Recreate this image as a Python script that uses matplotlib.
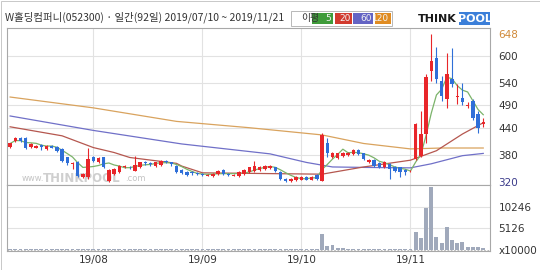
import numpy as np
import pandas as pd
import matplotlib
matplotlib.use("Agg")
import matplotlib.pyplot as plt
from matplotlib.patches import Rectangle

plt.rcParams['font.family'] = ['Noto Sans CJK KR', 'DejaVu Sans']

# 일봉 데이터 (2019/07/10 ~ 2019/11/21, 92일)
opens = [398, 411, 417, 417, 398, 396, 401, 393, 399, 397, 393, 374, 360, 365, 330, 330,
         374, 364, 374, 322, 338, 341, 352, 354, 345, 352, 363, 361, 356, 358, 366, 363,
         355, 347, 342, 341, 340, 337, 334, 333, 338, 346, 338, 334, 333, 338, 341, 344,
         346, 349, 350, 352, 341, 327, 322, 323, 325, 331, 325, 335, 322, 407, 374, 373,
         378, 379, 382, 390, 383, 363, 369, 361, 352, 360, 353, 352, 346, 343, 371, 378,
         426, 566, 595, 544, 504, 548, 508, 506, 488, 500, 471, 448]
highs = [407, 420, 419, 419, 405, 402, 404, 402, 401, 399, 395, 376, 363, 367, 340, 396,
         377, 375, 376, 349, 351, 358, 357, 356, 377, 365, 366, 363, 365, 368, 369, 365,
         357, 349, 344, 343, 342, 339, 338, 340, 346, 348, 340, 338, 343, 348, 354, 366,
         355, 357, 357, 354, 343, 329, 328, 333, 333, 333, 333, 337, 429, 418, 387, 385,
         387, 386, 392, 392, 385, 371, 371, 363, 367, 362, 355, 354, 348, 347, 450, 477,
         559, 648, 618, 555, 606, 617, 536, 540, 498, 503, 478, 461]
lows = [396, 409, 409, 393, 396, 394, 391, 391, 394, 387, 365, 357, 349, 331, 328, 327,
        364, 362, 350, 320, 336, 339, 350, 349, 343, 350, 358, 356, 354, 356, 361, 356,
        339, 337, 334, 335, 335, 332, 332, 331, 336, 336, 333, 332, 331, 336, 339, 342,
        344, 347, 348, 341, 325, 320, 320, 321, 323, 323, 323, 325, 321, 374, 372, 371,
        376, 377, 380, 379, 369, 361, 353, 350, 350, 327, 342, 331, 335, 341, 369, 376,
        407, 544, 540, 500, 484, 531, 492, 490, 483, 458, 429, 441]
closes = [405, 418, 411, 395, 403, 400, 398, 400, 396, 389, 367, 361, 362, 333, 337, 371,
          367, 373, 352, 346, 349, 355, 355, 352, 358, 363, 361, 359, 363, 366, 363, 359,
          341, 340, 336, 339, 337, 335, 336, 338, 344, 338, 335, 336, 341, 346, 352, 355,
          353, 355, 355, 343, 327, 321, 326, 331, 331, 325, 331, 327, 424, 385, 385, 383,
          385, 384, 390, 381, 371, 369, 355, 352, 365, 349, 344, 341, 341, 345, 448, 426,
          553, 588, 548, 511, 559, 537, 511, 498, 491, 462, 440, 453]
volumes = [90, 70, 80, 100, 70, 60, 80, 70, 60, 80, 110, 100, 90, 130, 100, 160,
           90, 70, 100, 120, 80, 80, 70, 60, 90, 80, 70, 60, 70, 70, 60, 70,
           80, 70, 60, 60, 60, 60, 60, 60, 70, 60, 60, 60, 60, 70, 80, 100,
           80, 70, 70, 70, 100, 110, 100, 80, 80, 70, 70, 80, 3700, 870, 1200, 300,
           250, 150, 120, 100, 110, 90, 100, 90, 80, 120, 100, 110, 90, 80, 4260, 2800,
           9920, 15150, 3050, 1600, 5470, 2400, 1600, 1930, 630, 600, 500, 300]

# 이동평균선 (화면에서 읽은 값)
ma20_idx = [0, 10, 16, 20, 23, 32, 33, 37, 52, 60, 68, 77, 82, 87, 91]
ma20_val = [442, 422, 396, 385, 374, 361, 355, 340, 338, 337, 353, 368, 389, 426, 451]
ma60_idx = [0, 16, 33, 50, 57, 62, 68, 77, 81, 87, 91]
ma60_val = [466, 434, 404, 382, 363, 353, 352, 351, 360, 378, 383]
ma120_idx = [0, 16, 32, 46, 60, 68, 77, 83, 91]
ma120_val = [508, 484, 454, 440, 424, 405, 393, 395, 395]

month_idx = [16, 37, 56, 77]
month_labels = ['19/08', '19/09', '19/10', '19/11']
price_ticks = [380, 440, 490, 540, 600]
vol_ticks = [5126, 10246]

UP = '#e8262a'
DOWN = '#2f6fd8'
GRID = '#e2e2e2'
EDGE = '#a8a8a8'

o = np.array(opens, float)
h = np.array(highs, float)
l = np.array(lows, float)
c = np.array(closes, float)
x = np.arange(len(c))
cols = np.where(c >= o, UP, DOWN)
ma5 = pd.Series(c).rolling(5, min_periods=1).mean()

W, H = 540, 270
fig = plt.figure(figsize=(5.4, 2.7), dpi=100)
fig.patch.set_facecolor('white')

ax = fig.add_axes([7 / W, 1 - 185 / H, 483 / W, 157 / H])
axv = fig.add_axes([7 / W, 1 - 251 / H, 483 / W, 66 / H], sharex=ax)

# 가격 패널
for v in price_ticks:
    ax.axhline(v, color=GRID, lw=0.8, zorder=0)
for m in month_idx:
    ax.axvline(m, color=GRID, lw=0.8, zorder=0)
    axv.axvline(m, color=GRID, lw=0.8, zorder=0)

# 워터마크
ax.text(0.03, 0.025, 'www.', transform=ax.transAxes, fontsize=6, color='#c4c4c4',
        family='DejaVu Sans', zorder=1)
ax.text(0.075, 0.02, 'THINKPOOL', transform=ax.transAxes, fontsize=8.5, color='#cfcfcf',
        weight='bold', family='DejaVu Sans', zorder=1)
ax.text(0.245, 0.025, '.com', transform=ax.transAxes, fontsize=6, color='#c4c4c4',
        family='DejaVu Sans', zorder=1)

ax.plot(ma120_idx, ma120_val, color='#d9a35e', lw=0.9, zorder=2)
ax.plot(ma60_idx, ma60_val, color='#7070c8', lw=0.9, zorder=2)
ax.plot(ma20_idx, ma20_val, color='#b5574f', lw=0.9, zorder=2)
ax.plot(x, ma5, color='#7bb36a', lw=0.9, zorder=2)

ax.vlines(x, l, h, colors=cols, lw=0.8, zorder=3)
ax.bar(x, np.maximum(np.abs(c - o), 1.2), bottom=np.minimum(o, c), width=0.66,
       color=cols, zorder=4)

ax.set_xlim(-0.6, 92.3)
ax.set_ylim(313, 661)
ax.yaxis.tick_right()
ax.set_yticks([320] + price_ticks + [648])
ax.set_yticklabels(['320'] + [str(v) for v in price_ticks] + ['648'],
                   family='DejaVu Sans', fontsize=7.5, color='#333333')
ylabs = ax.get_yticklabels()
ylabs[0].set_color('#3a3a8a')
ylabs[-1].set_color('#d08a3a')
ax.tick_params(axis='y', length=0, pad=6)
ax.tick_params(axis='x', length=0, labelbottom=False)
for s in ax.spines.values():
    s.set_color(EDGE)
    s.set_linewidth(0.8)

# 거래량 패널
for v in vol_ticks:
    axv.axhline(v, color=GRID, lw=0.8, zorder=0)
axv.axhline(0, color='#b0b0b0', lw=0.6, ls=(0, (2, 2)), zorder=1)
axv.bar(x, volumes, width=0.75, color='#a0a9bb', zorder=2)
axv.set_ylim(-360, 15600)
axv.yaxis.tick_right()
axv.set_yticks([0] + vol_ticks)
axv.set_yticklabels(['x10000'] + [str(v) for v in vol_ticks],
                    family='DejaVu Sans', fontsize=7.5, color='#333333')
axv.tick_params(axis='y', length=0, pad=6)
axv.set_xticks(month_idx)
axv.set_xticklabels(month_labels, family='DejaVu Sans', fontsize=7.5, color='#333333')
axv.tick_params(axis='x', length=0, pad=3)
for s in axv.spines.values():
    s.set_color(EDGE)
    s.set_linewidth(0.8)

# 머리말
fig.text(5 / W, 1 - 17 / H, 'W홀딩컴퍼니(052300) · 일간(92일) 2019/07/10 ~ 2019/11/21',
         fontsize=7.5, color='#333333', va='center', ha='left')

def box(x0, y0, w, hh, fc, ec='none'):
    fig.add_artist(Rectangle((x0 / W, 1 - (y0 + hh) / H), w / W, hh / H,
                             transform=fig.transFigure, facecolor=fc, edgecolor=ec, lw=0.7))

box(291, 11, 101, 15, 'white', '#b8b8b8')
fig.text(301 / W, 1 - 18.5 / H, '이평', fontsize=7, color='#333333', va='center', ha='left')
legend_items = [('5', 312, 21, '#3f9b3a'), ('20', 335, 17, '#d23a2e'),
                ('60', 353, 20, '#6464c4'), ('120', 375, 16, '#e08c22')]
for lab, bx, bw, fc in legend_items:
    box(bx, 13, bw, 11, fc)
    fig.text((bx + bw - 1.5) / W, 1 - 18.5 / H, lab, fontsize=6.5, color='#f2f2f2',
             va='center', ha='right', family='DejaVu Sans')

fig.text(418 / W, 1 - 19 / H, 'THINK', fontsize=8, weight='bold', color='#1a1a1a',
         va='center', ha='left', family='DejaVu Sans')
box(459, 12, 31, 13, '#3b7fd9')
fig.text(474.5 / W, 1 - 19 / H, 'POOL', fontsize=8, weight='bold', color='white',
         va='center', ha='center', family='DejaVu Sans')

box(0.5, 0.5, 539, 269, 'none', '#c8c8c8')

fig.savefig('out.png', dpi=100)
